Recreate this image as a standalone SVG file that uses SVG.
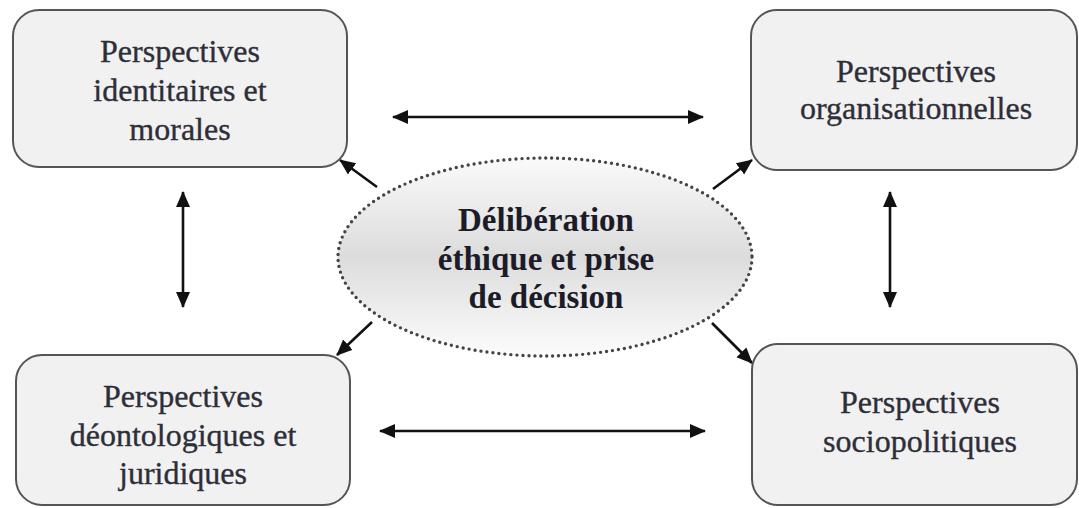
<svg xmlns="http://www.w3.org/2000/svg" width="1079" height="508" viewBox="0 0 1079 508">
<style>
.box{fill:#f1f1f1;stroke:#555;stroke-width:2}
.lbl{font-family:"Liberation Serif","Times New Roman",serif;font-size:32px;fill:#2e2e38;stroke:#2e2e38;stroke-width:0.35;text-anchor:middle}
.ctr{font-family:"Liberation Serif","Times New Roman",serif;font-size:33px;font-weight:bold;fill:#1c1c28;text-anchor:middle}
.con{stroke:#111;stroke-width:2.6;fill:none}
.one{marker-end:url(#ah)}
.two{marker-start:url(#ah);marker-end:url(#ah)}
</style>
<defs>
<marker id="ah" markerUnits="userSpaceOnUse" markerWidth="16" markerHeight="16" viewBox="0 0 16 16" refX="15" refY="8" orient="auto-start-reverse">
<path d="M0,1 L16,8 L0,15 z" fill="#111"/>
</marker>
<linearGradient id="eg" x1="0" y1="0" x2="0" y2="1">
<stop offset="0" stop-color="#fafafa"/>
<stop offset="0.5" stop-color="#dcdcdc"/>
<stop offset="1" stop-color="#fcfcfc"/>
</linearGradient>
</defs>
<rect width="1079" height="508" fill="#fff"/>
<g id="connectors">
<line class="con two" x1="393" y1="117" x2="703" y2="117"/>
<line class="con two" x1="380" y1="431" x2="705" y2="431"/>
<line class="con two" x1="183" y1="192" x2="183" y2="307"/>
<line class="con two" x1="890" y1="192" x2="890" y2="307"/>
<line class="con one" x1="377" y1="187" x2="340" y2="160"/>
<line class="con one" x1="713" y1="189" x2="752" y2="160"/>
<line class="con one" x1="372" y1="322" x2="337" y2="355"/>
<line class="con one" x1="712" y1="323" x2="752" y2="363"/>
</g>
<g id="node-identitaires">
<rect class="box" x="13" y="10" width="334" height="157" rx="26"/>
<text class="lbl" x="180" y="62">Perspectives</text>
<text class="lbl" x="180" y="101">identitaires et</text>
<text class="lbl" x="180" y="140">morales</text>
</g>
<g id="node-organisationnelles">
<rect class="box" x="751" y="10" width="326" height="160" rx="26"/>
<text class="lbl" x="916" y="82">Perspectives</text>
<text class="lbl" x="916" y="119">organisationnelles</text>
</g>
<g id="node-deontologiques">
<rect class="box" x="16" y="355" width="334" height="150" rx="26"/>
<text class="lbl" x="183" y="407">Perspectives</text>
<text class="lbl" x="183" y="446">déontologiques et</text>
<text class="lbl" x="183" y="484">juridiques</text>
</g>
<g id="node-sociopolitiques">
<rect class="box" x="752" y="344" width="325" height="161" rx="26"/>
<text class="lbl" x="920" y="413">Perspectives</text>
<text class="lbl" x="920" y="452">sociopolitiques</text>
</g>
<g id="node-deliberation">
<ellipse cx="545" cy="257" rx="207" ry="99" fill="url(#eg)" stroke="#444" stroke-width="3.4" stroke-dasharray="0 6" stroke-linecap="round"/>
<text class="ctr" x="546" y="231">Délibération</text>
<text class="ctr" x="546" y="270">éthique et prise</text>
<text class="ctr" x="546" y="308">de décision</text>
</g>
</svg>
